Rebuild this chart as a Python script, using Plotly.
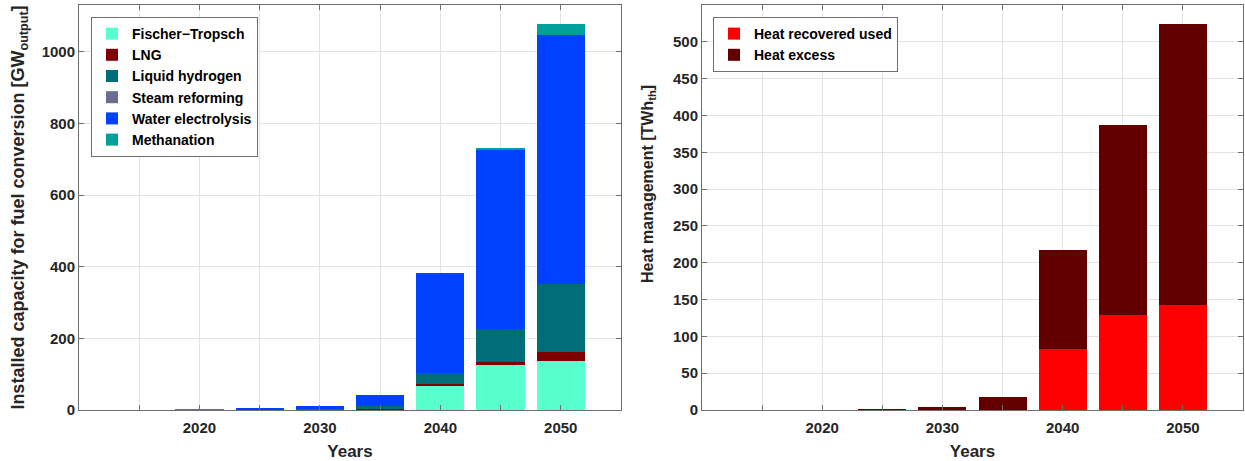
import plotly.graph_objects as go

years = [2015, 2020, 2025, 2030, 2035, 2040, 2045, 2050]
year_ticks = [2020, 2030, 2040, 2050]

# Left chart: installed capacity for fuel conversion [GW_output]
fischer_tropsch = [0, 0, 0, 0, 0, 69, 125, 137]
lng = [0, 0, 0, 1, 5, 3, 9, 25]
liquid_hydrogen = [0, 0, 0, 1, 5, 32, 93, 189]
steam_reforming = [0, 0.5, 1, 0, 0, 0, 0, 0]
water_electrolysis = [0, 0, 2, 9, 31, 279, 498, 695]
methanation = [0, 0, 0, 0, 0, 0, 8, 32]

# Right chart: heat management [TWh_th]
heat_recovered_used = [0, 0, 0, 0, 0, 83, 129, 142]
heat_excess = [0, 0, 1, 4, 17, 134, 258, 382]

left_series = [
    ("Fischer\u2212Tropsch", fischer_tropsch, "#58FFCF"),
    ("LNG", lng, "#7E0000"),
    ("Liquid hydrogen", liquid_hydrogen, "#006E78"),
    ("Steam reforming", steam_reforming, "#6A6E8E"),
    ("Water electrolysis", water_electrolysis, "#0040FF"),
    ("Methanation", methanation, "#00A09A"),
]
right_series = [
    ("Heat recovered used", heat_recovered_used, "#FF0000"),
    ("Heat excess", heat_excess, "#620000"),
]

FONT = "Liberation Sans, Arial, sans-serif"
TXT = "#262626"

fig = go.Figure()
for name, vals, col in left_series:
    fig.add_trace(go.Bar(x=years, y=vals, name=name, marker_color=col,
                         marker_line_width=0, width=4, xaxis="x", yaxis="y",
                         legend="legend"))
for name, vals, col in right_series:
    fig.add_trace(go.Bar(x=years, y=vals, name=name, marker_color=col,
                         marker_line_width=0, width=4, xaxis="x2", yaxis="y2",
                         legend="legend2"))

W, H = 1245, 461
T, B = 5, 51
PH = H - T - B

common_x = dict(range=[2010, 2055], tickvals=year_ticks, ticktext=[str(y) for y in year_ticks],
                showgrid=True, gridcolor="#E3E3E3", gridwidth=1,
                minor=dict(tickvals=years, showgrid=True, gridcolor="#E3E3E3", gridwidth=1,
                           ticks="inside", ticklen=5, tickcolor="#6E6E6E"),
                showline=True, linecolor="#6E6E6E", linewidth=1, mirror="ticks",
                ticks="inside", ticklen=5, tickcolor="#6E6E6E",
                ticklabelstandoff=4,
                tickfont=dict(family=FONT, size=15, color=TXT, weight="bold"),
                title=dict(text="Years", font=dict(family=FONT, size=17, color=TXT, weight="bold"),
                           standoff=12),
                zeroline=False, automargin=False)
common_y = dict(showgrid=True, gridcolor="#E3E3E3", gridwidth=1,
                showline=True, linecolor="#6E6E6E", linewidth=1, mirror="ticks",
                ticks="inside", ticklen=5, tickcolor="#6E6E6E",
                tickfont=dict(family=FONT, size=15, color=TXT, weight="bold"),
                zeroline=False, automargin=False)

leg_common = dict(xanchor="left", yanchor="top",
                  bgcolor="white", bordercolor="#6E6E6E", borderwidth=1,
                  font=dict(family=FONT, size=14, color="black", weight="bold"),
                  traceorder="normal", tracegroupgap=0, itemsizing="constant",
                  itemwidth=30)

fig.update_layout(
    width=W, height=H,
    barmode="stack",
    plot_bgcolor="white", paper_bgcolor="white",
    margin=dict(l=0, r=0, t=T, b=B, autoexpand=False),
    font=dict(family=FONT, color=TXT),
    xaxis=dict(domain=[79 / W, 621 / W], anchor="y", **common_x),
    yaxis=dict(range=[0, 1131], tickvals=[0, 200, 400, 600, 800, 1000], anchor="x",
               title=dict(text="Installed capacity for fuel conversion [GW<sub>output</sub>]",
                          font=dict(family=FONT, size=18, color=TXT, weight="bold"),
                          standoff=12),
               **common_y),
    xaxis2=dict(domain=[702 / W, 1243 / W], anchor="y2", **common_x),
    yaxis2=dict(range=[0, 550], tickvals=[0, 50, 100, 150, 200, 250, 300, 350, 400, 450, 500],
                anchor="x2", **common_y),
    legend=dict(x=91 / W, y=1 - 12 / PH, **leg_common),
    legend2=dict(x=713 / W, y=1 - 12 / PH, **leg_common),
    bargap=0,
    annotations=[dict(text="Heat management [TWh<sub>th</sub>]", textangle=-90,
                      xref="paper", yref="paper", x=648 / W, y=1 - (184 - T) / PH,
                      xanchor="center", yanchor="middle", showarrow=False,
                      font=dict(family=FONT, size=16, color=TXT, weight="bold"))],
)

fig.write_html("out.html", config={"displayModeBar": False},
               post_script="document.body.style.margin='0';document.body.style.overflow='hidden';")
